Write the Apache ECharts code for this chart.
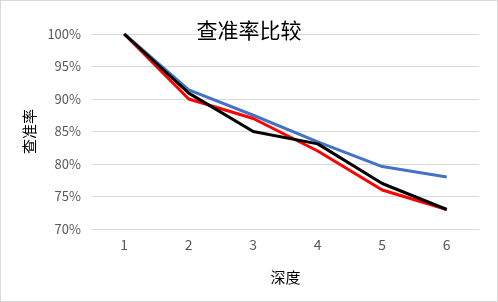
<!DOCTYPE html>
<html><head><meta charset="utf-8">
<script src="https://cdn.jsdelivr.net/npm/echarts@6/dist/echarts.min.js"></script>
<style>html,body{margin:0;padding:0;background:#fff;}#c{width:496px;height:300px;border:1px solid #d9d9d9;}</style>
</head><body><div id="c"></div>
<script>
const categories = ['1','2','3','4','5','6'];
const blueSeries = [100, 91.4, 87.5, 83.4, 79.6, 78.0];
const redSeries = [100, 90.0, 87.0, 82.0, 76.0, 73.0];
const blackSeries = [100, 90.9, 85.0, 83.1, 77.0, 73.0];
const yTicks = {min: 70, max: 100, interval: 5};
const font = '"Noto Sans CJK SC", "Liberation Sans", sans-serif';
const chart = echarts.init(document.getElementById('c'));
const mk = (d, c) => ({type:'line', data:d, symbol:'none', smooth:false, lineStyle:{color:c, width:3}, itemStyle:{color:c}, animation:false});
chart.setOption({
  animation:false,
  title:{text:'查准率比较', left:'center', top:14, textStyle:{fontFamily:font, fontSize:21, fontWeight:'normal', color:'#000'}},
  grid:{left:91, right:18, top:33, bottom:72},
  xAxis:{type:'category', data:categories, boundaryGap:true,
    name:'深度', nameLocation:'middle', nameGap:41, nameTextStyle:{fontFamily:font, fontSize:15, color:'#000'},
    axisLine:{lineStyle:{color:'#d9d9d9'}}, axisTick:{show:false},
    axisLabel:{fontFamily:font, fontSize:14, color:'#595959', margin:9}},
  yAxis:{type:'value', min:yTicks.min, max:yTicks.max, interval:yTicks.interval,
    name:'查准率', nameLocation:'middle', nameRotate:90, nameGap:50, nameTextStyle:{fontFamily:font, fontSize:15, color:'#000'},
    axisLine:{show:false}, axisTick:{show:false},
    splitLine:{lineStyle:{color:'#d9d9d9', width:1}},
    axisLabel:{formatter:'{value}%', fontFamily:font, fontSize:13, color:'#595959', margin:11}},
  series:[mk(blueSeries,'#4472C4'), mk(redSeries,'#FF0000'), mk(blackSeries,'#000000')]
});
</script></body></html>
